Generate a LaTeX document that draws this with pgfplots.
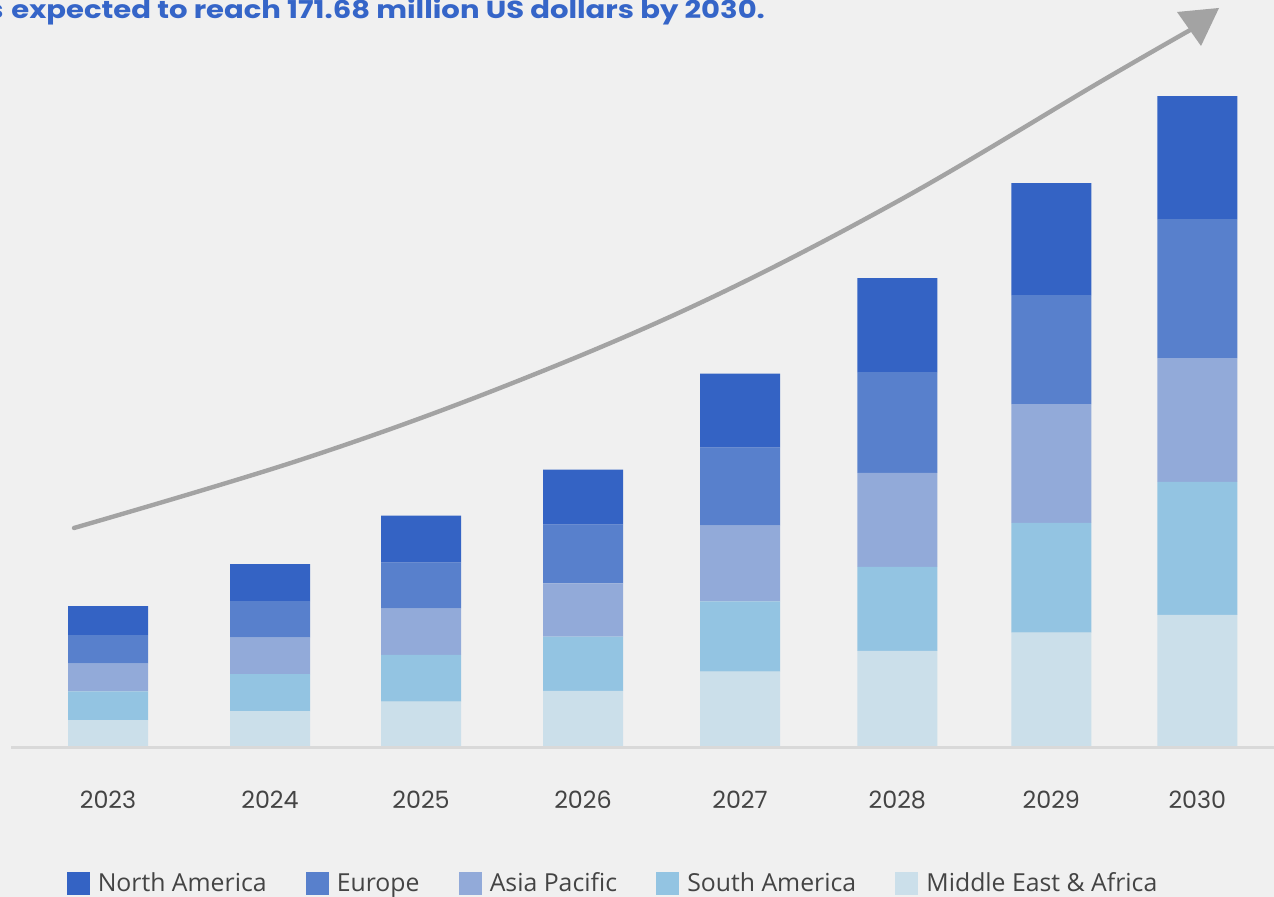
\documentclass[border=0pt]{standalone}
\usepackage{fontspec}
\setmainfont{Poppins}
\newfontfamily\legfont{Open Sans}
\usepackage{graphicx}
\usepackage{pgfplots}
\usepackage{pgfplotstable}
\pgfplotsset{compat=1.18}
\definecolor{cNA}{HTML}{3463C4}
\definecolor{cEU}{HTML}{5880CC}
\definecolor{cAP}{HTML}{92AAD9}
\definecolor{cSA}{HTML}{93C4E2}
\definecolor{cMEA}{HTML}{CBDFEA}
\definecolor{bg}{HTML}{F0F0F0}
\definecolor{basegray}{HTML}{D9D9D9}
\definecolor{arrowgray}{HTML}{A3A3A3}
\definecolor{tgray}{HTML}{444444}
\definecolor{ctitle}{HTML}{3565C8}

\pgfplotstableread{
x      NA     EU     AP     SA     MEA
108    7.64   7.55   7.27   7.55   7.37
270    9.74   9.66   9.56   9.74   9.74
421    12.38  12.11  12.19  12.30  12.19
583    14.48  15.46  14.03  14.30  15.01
740    19.49  20.54  19.93  18.51  20.09
897.3  24.75  26.59  24.75  22.12  25.54
1051.3 29.49  28.70  31.28  28.91  30.36
1197.3 32.39  36.60  32.62  34.99  35.07
}\data

\begin{document}
\begin{tikzpicture}
\fill[bg] (0,0) rectangle (637pt,448.5pt);
\clip (0,0) rectangle (637pt,448.5pt);
\begin{axis}[
  at={(0pt,74.5pt)}, anchor=south west,
  scale only axis, width=637pt, height=374pt,
  xmin=0, xmax=1274, ymin=0, ymax=196.96,
  ybar stacked, bar width=80,
  axis line style={draw=none},
  ytick=\empty,
  xtick={108,270,421,583,740,897.3,1051.3,1197.3},
  xticklabels={2023,2024,2025,2026,2027,2028,2029,2030},
  major tick length=0pt,
  xticklabel style={font=\fontsize{11.9}{14}\selectfont, text=tgray, anchor=base, yshift=-30.5pt},
  clip=false,
  every axis plot post/.append style={
    legend image code/.code={\path[##1] (0pt,-5.75pt) rectangle (11.5pt,5.75pt);}},
  reverse legend,
  legend columns=5,
  legend style={at={(0.0524,-0.1818)}, anchor=west, draw=none, fill=none,
    inner sep=0pt, outer sep=0pt,
    font=\legfont\fontsize{12.4}{14}\selectfont, text=tgray,
    /tikz/every odd column/.append style={column sep=2pt},
    /tikz/every even column/.append style={column sep=17.6pt}},
]
\draw[basegray, line width=1.5pt] (axis cs:11,0) -- (axis cs:1274,0);
\addplot[fill=cMEA, draw=none] table[x=x,y=MEA]{\data};
\addlegendentry{Middle East \& Africa}
\addplot[fill=cSA, draw=none] table[x=x,y=SA]{\data};
\addlegendentry{South America}
\addplot[fill=cAP, draw=none] table[x=x,y=AP]{\data};
\addlegendentry{Asia Pacific}
\addplot[fill=cEU, draw=none] table[x=x,y=EU]{\data};
\addlegendentry{Europe}
\addplot[fill=cNA, draw=none] table[x=x,y=NA]{\data};
\addlegendentry{North America}
\end{axis}
\begin{scope}[x=0.5pt,y=-0.5pt,shift={(0pt,448.5pt)}]
\draw[arrowgray, line width=2.2pt, line cap=round]
  plot[smooth, tension=0.6] coordinates {(74,528) (300,460) (500,388) (700,303) (900,200) (1100,82) (1192,29)};
\fill[arrowgray] (1177,12) -- (1219,8) -- (1201,46) -- cycle;
\node[anchor=base west, inner sep=0pt, font=\bfseries\fontsize{12.3}{14}\selectfont, text=ctitle] at (11,18.3) {\scalebox{1.182}[1]{expected to reach 171.68 million US dollars by 2030.}};
\node[anchor=base east, inner sep=0pt, font=\bfseries\fontsize{12.3}{14}\selectfont, text=ctitle] at (4,18.3) {\scalebox{1.182}[1]{is}};
\end{scope}
\end{tikzpicture}
\end{document}
